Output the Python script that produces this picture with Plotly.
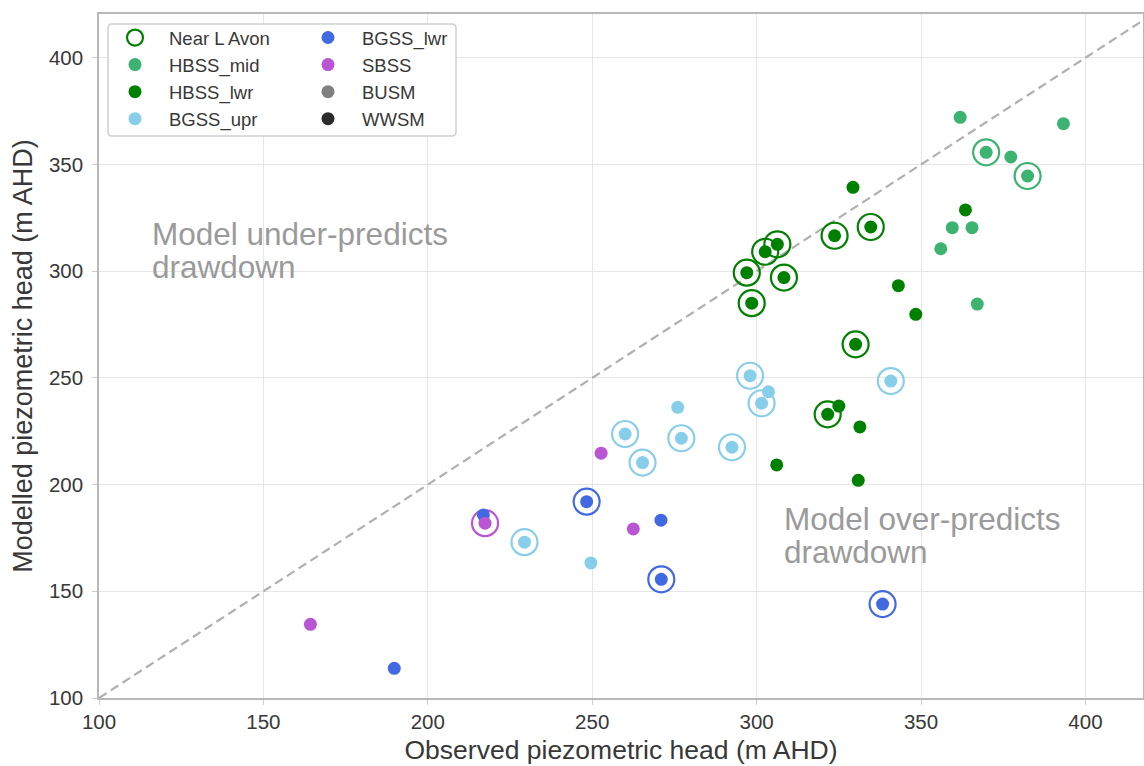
import plotly.graph_objects as go

# Observed vs modelled piezometric head by hydrostratigraphic unit (m AHD)
units = ["HBSS_mid", "HBSS_lwr", "BGSS_upr", "BGSS_lwr", "SBSS", "BUSM", "WWSM"]
unit_colors = {
    "HBSS_mid": "#3CB371",
    "HBSS_lwr": "#008000",
    "BGSS_upr": "#87CEEB",
    "BGSS_lwr": "#4169E1",
    "SBSS": "#BA55D3",
    "BUSM": "#808080",
    "WWSM": "#2B2B2B",
}

hbss_lwr_obs = [330.1, 321.6, 334.7, 323.7, 306.3, 302.6, 297.0, 308.3, 298.5,
                329.3, 363.5, 343.1, 348.4, 325.0, 331.4, 306.1, 330.9]
hbss_lwr_mod = [265.7, 232.9, 320.7, 316.6, 312.6, 309.1, 299.3, 297.0, 285.0,
                339.3, 328.7, 293.2, 279.8, 236.8, 227.0, 209.2, 202.0]
hbss_lwr_near = [1, 1, 1, 1, 1, 1, 1, 1, 1, 0, 0, 0, 0, 0, 0, 0, 0]

hbss_mid_obs = [361.9, 393.3, 369.8, 377.3, 382.4, 359.5, 365.5, 356.0, 367.1]
hbss_mid_mod = [372.1, 369.1, 355.7, 353.5, 344.6, 320.4, 320.4, 310.5, 284.6]
hbss_mid_near = [0, 0, 1, 0, 1, 0, 0, 0, 0]

bgss_upr_obs = [298.0, 303.6, 301.5, 340.8, 276.0, 260.0, 277.1, 265.3, 292.5, 229.4, 249.6]
bgss_upr_mod = [251.0, 243.5, 238.1, 248.5, 236.2, 223.7, 221.7, 210.3, 217.5, 173.0, 163.3]
bgss_upr_near = [1, 0, 1, 1, 0, 1, 1, 1, 1, 1, 0]

bgss_lwr_obs = [248.3, 270.9, 271.0, 338.3, 189.8, 216.9]
bgss_lwr_mod = [192.0, 183.3, 155.6, 144.0, 113.9, 185.8]
bgss_lwr_near = [1, 0, 1, 1, 0, 0]

sbss_obs = [217.4, 164.3, 252.7, 262.5]
sbss_mod = [181.9, 134.5, 214.7, 179.2]
sbss_near = [1, 0, 0, 0]

busm_obs, busm_mod, busm_near = [], [], []
wwsm_obs, wwsm_mod, wwsm_near = [], [], []

series = {
    "HBSS_mid": (hbss_mid_obs, hbss_mid_mod, hbss_mid_near),
    "HBSS_lwr": (hbss_lwr_obs, hbss_lwr_mod, hbss_lwr_near),
    "BGSS_upr": (bgss_upr_obs, bgss_upr_mod, bgss_upr_near),
    "BGSS_lwr": (bgss_lwr_obs, bgss_lwr_mod, bgss_lwr_near),
    "SBSS": (sbss_obs, sbss_mod, sbss_near),
    "BUSM": (busm_obs, busm_mod, busm_near),
    "WWSM": (wwsm_obs, wwsm_mod, wwsm_near),
}

x_ticks = [100, 150, 200, 250, 300, 350, 400]
y_ticks = [100, 150, 200, 250, 300, 350, 400]
x_range = [100, 417.5]
y_range = [100, 420.5]

FONT = "Liberation Sans, Arial, sans-serif"
TEXT = "#383838"

fig = go.Figure()

# 1:1 line
fig.add_trace(go.Scatter(
    x=[100, 430], y=[100, 430], mode="lines",
    line=dict(color="#B0B0B0", width=2.2, dash="9px,5px"),
    showlegend=False, hoverinfo="skip",
))

# Rings around bores near Lake Avon, coloured by unit (HBSS_lwr first so the legend uses green)
ring_x, ring_y, ring_c = [], [], []
for name in ["HBSS_lwr", "HBSS_mid", "BGSS_upr", "BGSS_lwr", "SBSS", "BUSM", "WWSM"]:
    obs, mod, near = series[name]
    for xo, ym, f in zip(obs, mod, near):
        if f:
            ring_x.append(xo)
            ring_y.append(ym)
            ring_c.append(unit_colors[name])

fig.add_trace(go.Scatter(
    x=ring_x, y=ring_y, mode="markers", name="Near L Avon",
    marker=dict(symbol="circle", size=26, color="rgba(255,255,255,0)",
                line=dict(color=ring_c, width=2.2)),
    legend="legend",
))

col1 = ["HBSS_mid", "HBSS_lwr", "BGSS_upr"]
for name in units:
    obs, mod, _ = series[name]
    # units without bores still get a legend entry (a single empty point)
    fig.add_trace(go.Scatter(
        x=obs if obs else [None], y=mod if mod else [None],
        mode="markers", name=name,
        marker=dict(size=13, color=unit_colors[name], line=dict(width=0)),
        legend="legend" if name in col1 else "legend2",
    ))

# Legend frame behind the two legend columns (pixel-based rounded rectangle in paper units)
PL, PR, PT, PB = 99, 1, 14, 68
W, H = 1144, 766
pw, ph = W - PL - PR, H - PT - PB


def px_x(p):
    return (p - PL) / pw


def px_y(p):
    return (H - PB - p) / ph


bx0, bx1, by0, by1, r = 108, 456, 24, 136, 4
path = (
    f"M {px_x(bx0 + r)},{px_y(by0)} L {px_x(bx1 - r)},{px_y(by0)} "
    f"Q {px_x(bx1)},{px_y(by0)} {px_x(bx1)},{px_y(by0 + r)} "
    f"L {px_x(bx1)},{px_y(by1 - r)} Q {px_x(bx1)},{px_y(by1)} {px_x(bx1 - r)},{px_y(by1)} "
    f"L {px_x(bx0 + r)},{px_y(by1)} Q {px_x(bx0)},{px_y(by1)} {px_x(bx0)},{px_y(by1 - r)} "
    f"L {px_x(bx0)},{px_y(by0 + r)} Q {px_x(bx0)},{px_y(by0)} {px_x(bx0 + r)},{px_y(by0)} Z"
)
fig.add_shape(type="path", path=path, xref="paper", yref="paper",
              fillcolor="white", line=dict(color="#CFCFCF", width=1.5), layer="above")

legend_style = dict(
    font=dict(family=FONT, size=18.5, color=TEXT),
    bgcolor="rgba(0,0,0,0)", borderwidth=0,
    xanchor="left", yanchor="top", tracegroupgap=0,
    itemsizing="trace", itemwidth=58,
)

for txt, x0, y0 in [
    ("Model under-predicts", 115.4, 317.3),
    ("drawdown", 115.4, 301.8),
    ("Model over-predicts", 307.6, 183.8),
    ("drawdown", 307.6, 168.3),
]:
    fig.add_annotation(
        x=x0, y=y0, xref="x", yref="y", text=txt, showarrow=False,
        xanchor="left", yanchor="middle",
        font=dict(family=FONT, size=31.5, color="#9A9A9A"),
    )

axis_common = dict(
    showgrid=True, gridcolor="#E6E6E6", gridwidth=1,
    showline=True, linecolor="#B8B8B8", linewidth=1.6, mirror=True,
    ticks="outside", ticklen=5, tickcolor="#CCCCCC", tickwidth=1,
    tickfont=dict(family=FONT, size=20.5, color=TEXT),
    zeroline=False,
)

fig.update_layout(
    width=W, height=H,
    margin=dict(l=PL, r=PR, t=PT, b=PB, autoexpand=False),
    paper_bgcolor="white", plot_bgcolor="white",
    showlegend=True,
    legend=dict(x=px_x(101), y=px_y(19), **legend_style),
    legend2=dict(x=px_x(294), y=px_y(19), **legend_style),
    xaxis=dict(range=x_range, tickvals=x_ticks,
               title=dict(text="Observed piezometric head (m AHD)",
                          font=dict(family=FONT, size=26.5, color=TEXT), standoff=8),
               **axis_common),
    yaxis=dict(range=y_range, tickvals=y_ticks, ticklabelstandoff=5,
               title=dict(text="Modelled piezometric head (m AHD)",
                          font=dict(family=FONT, size=27, color=TEXT), standoff=8),
               **axis_common),
)

fig.write_html("out.html")
